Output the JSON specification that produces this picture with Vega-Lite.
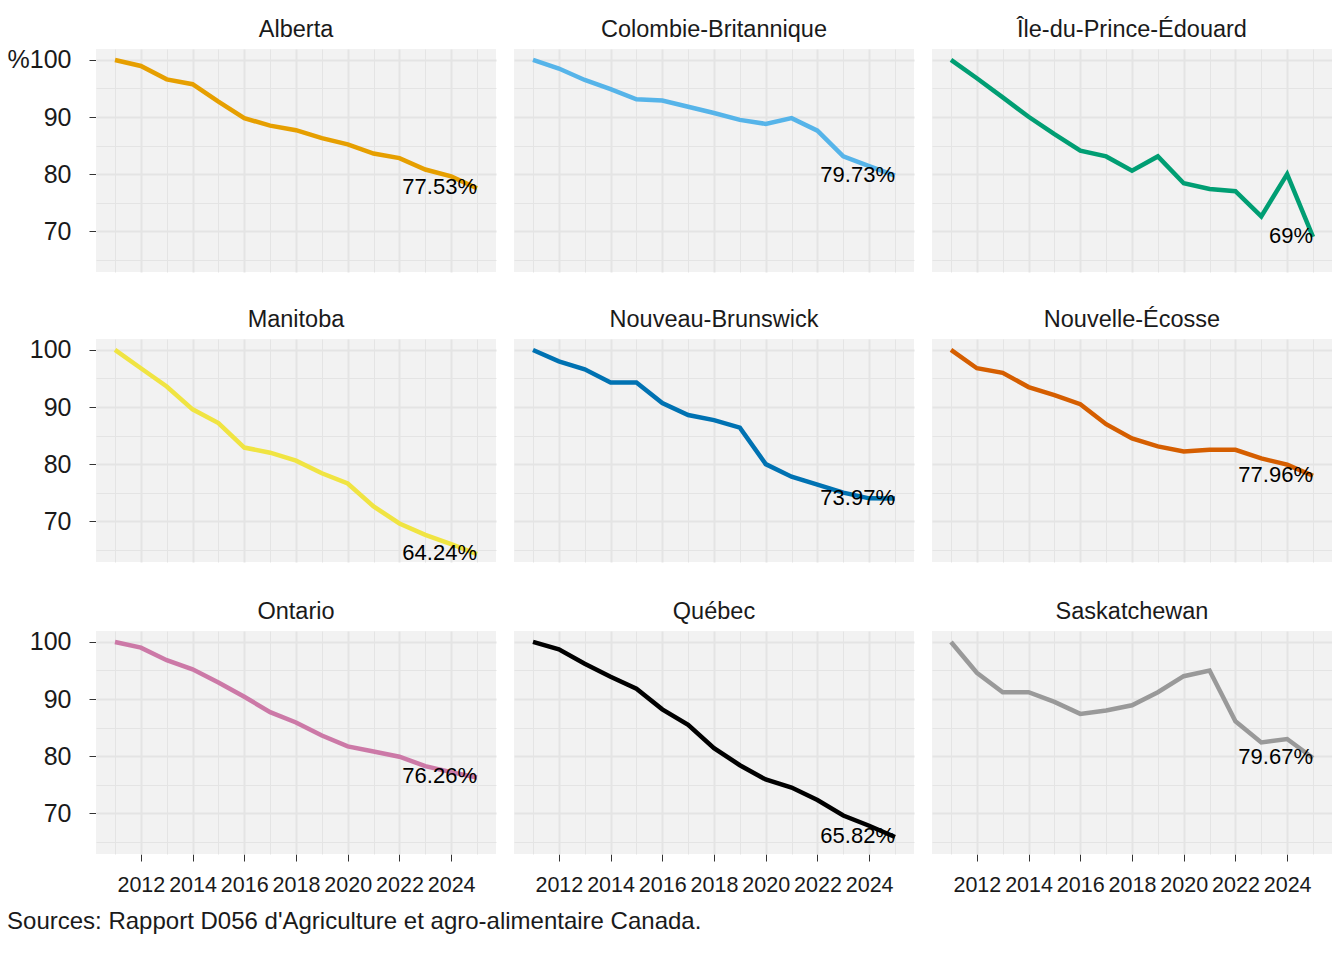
{
  "$schema": "https://vega.github.io/schema/vega-lite/v6.json",
  "padding": {"left": 7, "top": 17, "right": 0, "bottom": 0},
  "background": "white",
  "config": {
    "font": "Liberation Sans",
    "view": {"fill": "#F2F2F2", "stroke": null},
    "header": {"labelFontSize": 23.5, "labelColor": "#1a1a1a", "labelFont": "Liberation Sans", "labelPadding": 8},
    "axis": {"labelFont": "Liberation Sans", "labelColor": "#1a1a1a", "gridColor": "#E4E4E4", "tickColor": "#333333", "domain": false, "title": null}
  },
  "title": {"text": "Sources: Rapport D056 d'Agriculture et agro-alimentaire Canada.", "orient": "bottom", "anchor": "start", "fontSize": 24, "fontWeight": "normal", "color": "#1a1a1a", "font": "Liberation Sans", "offset": 14},
  "datasets": {
    "d": [
      {"province": "Alberta", "year": 2011, "value": 100},
      {"province": "Alberta", "year": 2012, "value": 98.95},
      {"province": "Alberta", "year": 2013, "value": 96.6},
      {"province": "Alberta", "year": 2014, "value": 95.75},
      {"province": "Alberta", "year": 2015, "value": 92.7},
      {"province": "Alberta", "year": 2016, "value": 89.8},
      {"province": "Alberta", "year": 2017, "value": 88.5},
      {"province": "Alberta", "year": 2018, "value": 87.7},
      {"province": "Alberta", "year": 2019, "value": 86.3},
      {"province": "Alberta", "year": 2020, "value": 85.2},
      {"province": "Alberta", "year": 2021, "value": 83.6},
      {"province": "Alberta", "year": 2022, "value": 82.8},
      {"province": "Alberta", "year": 2023, "value": 80.8},
      {"province": "Alberta", "year": 2024, "value": 79.6},
      {"province": "Alberta", "year": 2025, "value": 77.53},
      {"province": "Colombie-Britannique", "year": 2011, "value": 100},
      {"province": "Colombie-Britannique", "year": 2012, "value": 98.5},
      {"province": "Colombie-Britannique", "year": 2013, "value": 96.5},
      {"province": "Colombie-Britannique", "year": 2014, "value": 94.9},
      {"province": "Colombie-Britannique", "year": 2015, "value": 93.1},
      {"province": "Colombie-Britannique", "year": 2016, "value": 92.9},
      {"province": "Colombie-Britannique", "year": 2017, "value": 91.8},
      {"province": "Colombie-Britannique", "year": 2018, "value": 90.7},
      {"province": "Colombie-Britannique", "year": 2019, "value": 89.5},
      {"province": "Colombie-Britannique", "year": 2020, "value": 88.8},
      {"province": "Colombie-Britannique", "year": 2021, "value": 89.8},
      {"province": "Colombie-Britannique", "year": 2022, "value": 87.6},
      {"province": "Colombie-Britannique", "year": 2023, "value": 83.1},
      {"province": "Colombie-Britannique", "year": 2024, "value": 81.4},
      {"province": "Colombie-Britannique", "year": 2025, "value": 79.73},
      {"province": "Île-du-Prince-Édouard", "year": 2011, "value": 100},
      {"province": "Île-du-Prince-Édouard", "year": 2012, "value": 96.8},
      {"province": "Île-du-Prince-Édouard", "year": 2013, "value": 93.45},
      {"province": "Île-du-Prince-Édouard", "year": 2014, "value": 90.05},
      {"province": "Île-du-Prince-Édouard", "year": 2015, "value": 87.0},
      {"province": "Île-du-Prince-Édouard", "year": 2016, "value": 84.1},
      {"province": "Île-du-Prince-Édouard", "year": 2017, "value": 83.1},
      {"province": "Île-du-Prince-Édouard", "year": 2018, "value": 80.6},
      {"province": "Île-du-Prince-Édouard", "year": 2019, "value": 83.1},
      {"province": "Île-du-Prince-Édouard", "year": 2020, "value": 78.4},
      {"province": "Île-du-Prince-Édouard", "year": 2021, "value": 77.4},
      {"province": "Île-du-Prince-Édouard", "year": 2022, "value": 77.0},
      {"province": "Île-du-Prince-Édouard", "year": 2023, "value": 72.6},
      {"province": "Île-du-Prince-Édouard", "year": 2024, "value": 80.0},
      {"province": "Île-du-Prince-Édouard", "year": 2025, "value": 69},
      {"province": "Manitoba", "year": 2011, "value": 100},
      {"province": "Manitoba", "year": 2012, "value": 96.8},
      {"province": "Manitoba", "year": 2013, "value": 93.6},
      {"province": "Manitoba", "year": 2014, "value": 89.6},
      {"province": "Manitoba", "year": 2015, "value": 87.2},
      {"province": "Manitoba", "year": 2016, "value": 82.9},
      {"province": "Manitoba", "year": 2017, "value": 82.0},
      {"province": "Manitoba", "year": 2018, "value": 80.6},
      {"province": "Manitoba", "year": 2019, "value": 78.4},
      {"province": "Manitoba", "year": 2020, "value": 76.6},
      {"province": "Manitoba", "year": 2021, "value": 72.6},
      {"province": "Manitoba", "year": 2022, "value": 69.6},
      {"province": "Manitoba", "year": 2023, "value": 67.6},
      {"province": "Manitoba", "year": 2024, "value": 66.0},
      {"province": "Manitoba", "year": 2025, "value": 64.24},
      {"province": "Nouveau-Brunswick", "year": 2011, "value": 100},
      {"province": "Nouveau-Brunswick", "year": 2012, "value": 98.0},
      {"province": "Nouveau-Brunswick", "year": 2013, "value": 96.6},
      {"province": "Nouveau-Brunswick", "year": 2014, "value": 94.3},
      {"province": "Nouveau-Brunswick", "year": 2015, "value": 94.3},
      {"province": "Nouveau-Brunswick", "year": 2016, "value": 90.7},
      {"province": "Nouveau-Brunswick", "year": 2017, "value": 88.6},
      {"province": "Nouveau-Brunswick", "year": 2018, "value": 87.7},
      {"province": "Nouveau-Brunswick", "year": 2019, "value": 86.4},
      {"province": "Nouveau-Brunswick", "year": 2020, "value": 80.0},
      {"province": "Nouveau-Brunswick", "year": 2021, "value": 77.8},
      {"province": "Nouveau-Brunswick", "year": 2022, "value": 76.4},
      {"province": "Nouveau-Brunswick", "year": 2023, "value": 75.0},
      {"province": "Nouveau-Brunswick", "year": 2024, "value": 74.0},
      {"province": "Nouveau-Brunswick", "year": 2025, "value": 73.97},
      {"province": "Nouvelle-Écosse", "year": 2011, "value": 100},
      {"province": "Nouvelle-Écosse", "year": 2012, "value": 96.8},
      {"province": "Nouvelle-Écosse", "year": 2013, "value": 96.0},
      {"province": "Nouvelle-Écosse", "year": 2014, "value": 93.5},
      {"province": "Nouvelle-Écosse", "year": 2015, "value": 92.1},
      {"province": "Nouvelle-Écosse", "year": 2016, "value": 90.5},
      {"province": "Nouvelle-Écosse", "year": 2017, "value": 87.0},
      {"province": "Nouvelle-Écosse", "year": 2018, "value": 84.5},
      {"province": "Nouvelle-Écosse", "year": 2019, "value": 83.1},
      {"province": "Nouvelle-Écosse", "year": 2020, "value": 82.2},
      {"province": "Nouvelle-Écosse", "year": 2021, "value": 82.5},
      {"province": "Nouvelle-Écosse", "year": 2022, "value": 82.5},
      {"province": "Nouvelle-Écosse", "year": 2023, "value": 81.0},
      {"province": "Nouvelle-Écosse", "year": 2024, "value": 79.9},
      {"province": "Nouvelle-Écosse", "year": 2025, "value": 77.96},
      {"province": "Ontario", "year": 2011, "value": 100},
      {"province": "Ontario", "year": 2012, "value": 99.0},
      {"province": "Ontario", "year": 2013, "value": 96.8},
      {"province": "Ontario", "year": 2014, "value": 95.2},
      {"province": "Ontario", "year": 2015, "value": 92.9},
      {"province": "Ontario", "year": 2016, "value": 90.4},
      {"province": "Ontario", "year": 2017, "value": 87.7},
      {"province": "Ontario", "year": 2018, "value": 85.9},
      {"province": "Ontario", "year": 2019, "value": 83.6},
      {"province": "Ontario", "year": 2020, "value": 81.7},
      {"province": "Ontario", "year": 2021, "value": 80.8},
      {"province": "Ontario", "year": 2022, "value": 79.9},
      {"province": "Ontario", "year": 2023, "value": 78.25},
      {"province": "Ontario", "year": 2024, "value": 77.2},
      {"province": "Ontario", "year": 2025, "value": 76.26},
      {"province": "Québec", "year": 2011, "value": 100},
      {"province": "Québec", "year": 2012, "value": 98.7},
      {"province": "Québec", "year": 2013, "value": 96.2},
      {"province": "Québec", "year": 2014, "value": 93.9},
      {"province": "Québec", "year": 2015, "value": 91.8},
      {"province": "Québec", "year": 2016, "value": 88.2},
      {"province": "Québec", "year": 2017, "value": 85.5},
      {"province": "Québec", "year": 2018, "value": 81.4},
      {"province": "Québec", "year": 2019, "value": 78.4},
      {"province": "Québec", "year": 2020, "value": 75.9},
      {"province": "Québec", "year": 2021, "value": 74.5},
      {"province": "Québec", "year": 2022, "value": 72.3},
      {"province": "Québec", "year": 2023, "value": 69.6},
      {"province": "Québec", "year": 2024, "value": 67.8},
      {"province": "Québec", "year": 2025, "value": 65.82},
      {"province": "Saskatchewan", "year": 2011, "value": 100},
      {"province": "Saskatchewan", "year": 2012, "value": 94.6},
      {"province": "Saskatchewan", "year": 2013, "value": 91.2},
      {"province": "Saskatchewan", "year": 2014, "value": 91.2},
      {"province": "Saskatchewan", "year": 2015, "value": 89.5},
      {"province": "Saskatchewan", "year": 2016, "value": 87.4},
      {"province": "Saskatchewan", "year": 2017, "value": 88.0},
      {"province": "Saskatchewan", "year": 2018, "value": 88.9},
      {"province": "Saskatchewan", "year": 2019, "value": 91.2},
      {"province": "Saskatchewan", "year": 2020, "value": 94.0},
      {"province": "Saskatchewan", "year": 2021, "value": 95.0},
      {"province": "Saskatchewan", "year": 2022, "value": 86.1},
      {"province": "Saskatchewan", "year": 2023, "value": 82.4},
      {"province": "Saskatchewan", "year": 2024, "value": 83.0},
      {"province": "Saskatchewan", "year": 2025, "value": 79.67}
    ]
  },
  "spacing": 34,
  "vconcat": [
    {
      "data": {"name": "d"},
      "transform": [{"filter": {"field": "province", "oneOf": ["Alberta", "Colombie-Britannique", "Île-du-Prince-Édouard"]}}],
      "facet": {"column": {"field": "province", "type": "nominal", "sort": ["Alberta", "Colombie-Britannique", "Île-du-Prince-Édouard"], "header": {"title": null}}},
      "spacing": {"column": 18},
      "spec": {
        "width": 400, "height": 223,
        "encoding": {
          "x": {"field": "year", "type": "quantitative", "scale": {"domain": [2010.265, 2025.735], "nice": false, "zero": false},
            "axis": {"values": [2011,2012,2013,2014,2015,2016,2017,2018,2019,2020,2021,2022,2023,2024,2025], "labels": false, "ticks": false, "domain": false, "grid": true,
              "gridWidth": {"condition": {"test": "datum.value % 2 == 0", "value": 2}, "value": 1}}},
          "y": {"field": "value", "type": "quantitative", "scale": {"domain": [62.85, 101.92], "nice": false, "zero": false},
            "axis": {"values": [65,70,75,80,85,90,95,100], "labelExpr": "datum.value == 100 ? '%100' : (datum.value % 10 == 0 ? datum.label : '')", "labelFontSize": 25, "labelPadding": 18, "tickSize": 7, "labelOverlap": false, "labelFlush": false,
              "tickOpacity": {"condition": {"test": "datum.value % 10 == 0", "value": 1}, "value": 0},
              "gridWidth": {"condition": {"test": "datum.value % 10 == 0", "value": 2}, "value": 1}}}
        },
        "layer": [
          {"mark": {"type": "line", "strokeWidth": 4.5, "strokeCap": "butt"},
           "encoding": {"color": {"field": "province", "type": "nominal", "legend": null,
             "scale": {"domain": ["Alberta","Colombie-Britannique","Île-du-Prince-Édouard","Manitoba","Nouveau-Brunswick","Nouvelle-Écosse","Ontario","Québec","Saskatchewan"], "range": ["#E69F00","#56B4E9","#009E73","#F0E442","#0072B2","#D55E00","#CC79A7","#000000","#999999"]}}}},
          {"transform": [{"filter": "datum.year == 2025"}, {"calculate": "datum.value + '%'", "as": "label"}],
           "mark": {"type": "text", "align": "right", "baseline": "middle", "fontSize": 22, "color": "#000000", "dx": 0, "dy": -1},
           "encoding": {"text": {"field": "label", "type": "nominal"}}}
        ]
      }
    },
    {
      "data": {"name": "d"},
      "transform": [{"filter": {"field": "province", "oneOf": ["Manitoba", "Nouveau-Brunswick", "Nouvelle-Écosse"]}}],
      "facet": {"column": {"field": "province", "type": "nominal", "sort": ["Manitoba", "Nouveau-Brunswick", "Nouvelle-Écosse"], "header": {"title": null}}},
      "spacing": {"column": 18},
      "spec": {
        "width": 400, "height": 223,
        "encoding": {
          "x": {"field": "year", "type": "quantitative", "scale": {"domain": [2010.265, 2025.735], "nice": false, "zero": false},
            "axis": {"values": [2011,2012,2013,2014,2015,2016,2017,2018,2019,2020,2021,2022,2023,2024,2025], "labels": false, "ticks": false, "domain": false, "grid": true,
              "gridWidth": {"condition": {"test": "datum.value % 2 == 0", "value": 2}, "value": 1}}},
          "y": {"field": "value", "type": "quantitative", "scale": {"domain": [62.85, 101.92], "nice": false, "zero": false},
            "axis": {"values": [65,70,75,80,85,90,95,100], "labelExpr": "datum.value % 10 == 0 ? datum.label : ''", "labelFontSize": 25, "labelPadding": 18, "tickSize": 7, "labelOverlap": false, "labelFlush": false,
              "tickOpacity": {"condition": {"test": "datum.value % 10 == 0", "value": 1}, "value": 0},
              "gridWidth": {"condition": {"test": "datum.value % 10 == 0", "value": 2}, "value": 1}}}
        },
        "layer": [
          {"mark": {"type": "line", "strokeWidth": 4.5, "strokeCap": "butt"},
           "encoding": {"color": {"field": "province", "type": "nominal", "legend": null,
             "scale": {"domain": ["Alberta","Colombie-Britannique","Île-du-Prince-Édouard","Manitoba","Nouveau-Brunswick","Nouvelle-Écosse","Ontario","Québec","Saskatchewan"], "range": ["#E69F00","#56B4E9","#009E73","#F0E442","#0072B2","#D55E00","#CC79A7","#000000","#999999"]}}}},
          {"transform": [{"filter": "datum.year == 2025"}, {"calculate": "datum.value + '%'", "as": "label"}],
           "mark": {"type": "text", "align": "right", "baseline": "middle", "fontSize": 22, "color": "#000000", "dx": 0, "dy": -1},
           "encoding": {"text": {"field": "label", "type": "nominal"}}}
        ]
      }
    },
    {
      "data": {"name": "d"},
      "transform": [{"filter": {"field": "province", "oneOf": ["Ontario", "Québec", "Saskatchewan"]}}],
      "facet": {"column": {"field": "province", "type": "nominal", "sort": ["Ontario", "Québec", "Saskatchewan"], "header": {"title": null}}},
      "spacing": {"column": 18},
      "spec": {
        "width": 400, "height": 223,
        "encoding": {
          "x": {"field": "year", "type": "quantitative", "scale": {"domain": [2010.265, 2025.735], "nice": false, "zero": false},
            "axis": {"values": [2011,2012,2013,2014,2015,2016,2017,2018,2019,2020,2021,2022,2023,2024,2025], "format": "d", "labelExpr": "datum.value % 2 == 0 ? datum.label : ''", "labelFontSize": 21.5, "labelPadding": 13, "tickSize": 7, "labelOverlap": false, "labelFlush": false, "labelBound": false, "domain": false, "grid": true,
              "tickOpacity": {"condition": {"test": "datum.value % 2 == 0", "value": 1}, "value": 0},
              "gridWidth": {"condition": {"test": "datum.value % 2 == 0", "value": 2}, "value": 1}}},
          "y": {"field": "value", "type": "quantitative", "scale": {"domain": [62.85, 101.92], "nice": false, "zero": false},
            "axis": {"values": [65,70,75,80,85,90,95,100], "labelExpr": "datum.value % 10 == 0 ? datum.label : ''", "labelFontSize": 25, "labelPadding": 18, "tickSize": 7, "labelOverlap": false, "labelFlush": false,
              "tickOpacity": {"condition": {"test": "datum.value % 10 == 0", "value": 1}, "value": 0},
              "gridWidth": {"condition": {"test": "datum.value % 10 == 0", "value": 2}, "value": 1}}}
        },
        "layer": [
          {"mark": {"type": "line", "strokeWidth": 4.5, "strokeCap": "butt"},
           "encoding": {"color": {"field": "province", "type": "nominal", "legend": null,
             "scale": {"domain": ["Alberta","Colombie-Britannique","Île-du-Prince-Édouard","Manitoba","Nouveau-Brunswick","Nouvelle-Écosse","Ontario","Québec","Saskatchewan"], "range": ["#E69F00","#56B4E9","#009E73","#F0E442","#0072B2","#D55E00","#CC79A7","#000000","#999999"]}}}},
          {"transform": [{"filter": "datum.year == 2025"}, {"calculate": "datum.value + '%'", "as": "label"}],
           "mark": {"type": "text", "align": "right", "baseline": "middle", "fontSize": 22, "color": "#000000", "dx": 0, "dy": -1},
           "encoding": {"text": {"field": "label", "type": "nominal"}}}
        ]
      }
    }
  ]
}
